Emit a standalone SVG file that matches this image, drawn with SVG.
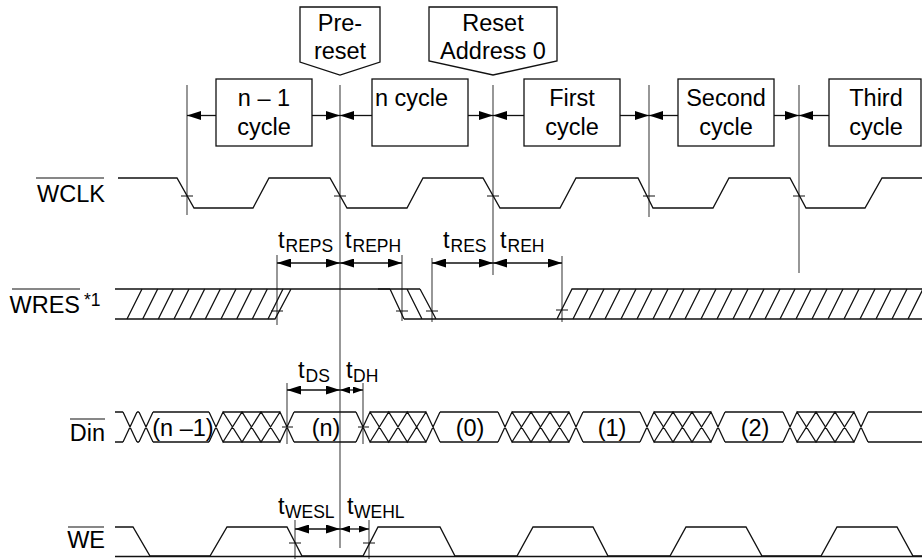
<svg xmlns="http://www.w3.org/2000/svg" width="922" height="559" viewBox="0 0 922 559">
<style>
text{font-family:"Liberation Sans",Arial,sans-serif;font-size:23.5px;fill:#000}
.sub{font-size:17.5px}
.c{text-anchor:middle}
.r{text-anchor:end}
.sig{fill:none;stroke:#111;stroke-width:1.3;stroke-linejoin:miter}
.box{fill:#fff;stroke:#111;stroke-width:1.3}
.vl{stroke:#444;stroke-width:1.1;fill:none}
.arr{stroke:#111;stroke-width:1.3;fill:none;marker-end:url(#ah)}
.dim{stroke:#111;stroke-width:1.3;fill:none;marker-start:url(#ah);marker-end:url(#ah)}
.dims{stroke:#111;stroke-width:1.3;fill:none;marker-start:url(#as);marker-end:url(#as)}
.tk{stroke:#111;stroke-width:1.1}
</style>
<defs>
<marker id="ah" markerUnits="userSpaceOnUse" markerWidth="14" markerHeight="9" refX="14" refY="4.5" orient="auto-start-reverse"><path d="M0,0 L14,4.5 L0,9 z" fill="#000"/></marker>
<marker id="as" markerUnits="userSpaceOnUse" markerWidth="10" markerHeight="7" refX="10" refY="3.5" orient="auto-start-reverse"><path d="M0,0 L10,3.5 L0,7 z" fill="#000"/></marker>
</defs>

<g id="tag-prereset">
<path class="box" d="M300,7 H380 V62 L340,75 L300,62 Z"/>
<text class="c" x="340" y="31">Pre-</text>
<text class="c" x="340" y="59">reset</text>
</g>
<g id="tag-reset">
<path class="box" d="M429,7 H557 V61 L493,75 L429,61 Z"/>
<text class="c" x="493" y="31">Reset</text>
<text class="c" x="493" y="59">Address 0</text>
</g>

<g id="connectors">
<path class="vl" d="M187,85 V215 M340,85 V548 M493,85 V275 M649,85 V217 M799,85 V273"/>
<path class="vl" d="M277,255 V325 M402,255 V321 M432,258 V322 M562,256 V322 M287,383 V444 M363,383 V444 M295,520 V559 M369,520 V559"/>
<path class="arr" d="M216,115.5 H187"/>
<path class="arr" d="M312,115.5 H340"/>
<path class="arr" d="M372,115.5 H340"/>
<path class="arr" d="M468,115.5 H493"/>
<path class="arr" d="M524,115.5 H493"/>
<path class="arr" d="M620,115.5 H649"/>
<path class="arr" d="M678,115.5 H649"/>
<path class="arr" d="M774,115.5 H799"/>
<path class="arr" d="M829,115.5 H799"/>
<path class="dim" d="M277,263 H340"/>
<path class="dim" d="M340,263 H402"/>
<path class="dim" d="M432,263 H493"/>
<path class="dim" d="M493,263 H562"/>
<path class="dim" d="M287,390 H340"/>
<path class="dims" d="M340,390 H363"/>
<path class="dim" d="M295,529 H340"/>
<path class="dims" d="M340,529 H369"/>
</g>

<g id="box-n-1">
<rect class="box" x="216" y="79" width="96" height="67"/>
<text class="c" x="264" y="106">n – 1</text>
<text class="c" x="264" y="135">cycle</text>
</g>
<g id="box-n">
<rect class="box" x="372" y="79" width="96" height="67"/>
<text x="375" y="106">n cycle</text>
</g>
<g id="box-first">
<rect class="box" x="524" y="79" width="96" height="67"/>
<text class="c" x="572" y="106">First</text>
<text class="c" x="572" y="135">cycle</text>
</g>
<g id="box-second">
<rect class="box" x="678" y="79" width="96" height="67"/>
<text class="c" x="726" y="106">Second</text>
<text class="c" x="726" y="135">cycle</text>
</g>
<g id="box-third">
<rect class="box" x="829" y="79" width="92" height="67"/>
<text class="c" x="876" y="106">Third</text>
<text class="c" x="876" y="135">cycle</text>
</g>

<g id="sig-wclk">
<text class="r" x="105" y="202">WCLK</text>
<line class="tk" x1="36" y1="178" x2="104" y2="178"/>
<path class="sig" d="M118,178 H177 L194,208 H253 L269,178 H330 L347,208 H407 L423,178 H483 L500,208 H560 L576,178 H638 L653,208 H713 L729,178 H790 L806,208 H865 L882,178 H922"/>
<path class="tk" d="M181,196 H193 M334,196 H346 M487,196 H499 M643,196 H655 M793,196 H805"/>
</g>

<g id="sig-wres">
<text class="r" x="80" y="313">WRES</text>
<text class="sub" x="84" y="306">*1</text>
<line class="tk" x1="12" y1="289" x2="80" y2="289"/>
<path class="sig" d="M115,289 H420 M115,319 H275 L291,289 M390,289 L404,319 M407,289 L422,319 M420,289 L436,319 M404,319 H922 M557,319 L572,289 H922"/>
<path class="sig" stroke-width="2.6" d="M378,289 H390"/>
<path class="sig" d="M127,319 L142,289 M142.7,319 L157.7,289 M158.3,319 L173.3,289 M174,319 L189,289 M189.7,319 L204.7,289 M205.3,319 L220.3,289 M221,319 L236,289 M236.7,319 L251.7,289 M252.3,319 L267.3,289 M268,319 L283,289"/>
<path class="sig" d="M573,319 L588,289 M589,319 L604,289 M605,319 L620,289 M621,319 L636,289 M637,319 L652,289 M653,319 L668,289 M669,319 L684,289 M685,319 L700,289 M701,319 L716,289 M717,319 L732,289 M733,319 L748,289 M749,319 L764,289 M765,319 L780,289 M780,319 L795,289 M796,319 L811,289 M812,319 L827,289 M828,319 L843,289 M844,319 L859,289 M860,319 L875,289 M876,319 L891,289 M892,319 L907,289 M908,319 L923,289"/>
<path class="tk" d="M271,311 H283 M396,311 H408 M426,311 H438 M556,310 H568"/>
</g>

<g id="sig-din">
<text class="r" x="105" y="441">Din</text>
<line class="tk" x1="70" y1="419" x2="105" y2="419"/>
<path class="sig" d="M115,412 H123 M137,412 H139 M153,412 H209 M223,412 H280 M294,412 H356 M370,412 H426 M440,412 H498 M512,412 H569 M583,412 H640 M654,412 H711 M725,412 H783 M797,412 H854 M868,412 H922"/>
<path class="sig" d="M115,442 H123 M137,442 H139 M153,442 H209 M223,442 H280 M294,442 H356 M370,442 H426 M440,442 H498 M512,442 H569 M583,442 H640 M654,442 H711 M725,442 H783 M797,442 H854 M868,442 H922"/>
<path class="sig" d="M123,412 L137,442 M123,442 L137,412 M139,412 L153,442 M139,442 L153,412
M209,412 L223,442 L242,412 L261,442 L280,412 L294,442 M209,442 L223,412 L242,442 L261,412 L280,442 L294,412
M356,412 L370,442 L388.7,412 L407.3,442 L426,412 L440,442 M356,442 L370,412 L388.7,442 L407.3,412 L426,442 L440,412
M498,412 L512,442 L531,412 L550,442 L569,412 L583,442 M498,442 L512,412 L531,442 L550,412 L569,442 L583,412
M640,412 L654,442 L673,412 L692,442 L711,412 L725,442 M640,442 L654,412 L673,442 L692,412 L711,442 L725,412
M783,412 L797,442 L816,412 L835,442 L854,412 L868,442 M783,442 L797,412 L816,442 L835,412 L854,442 L868,412"/>
<path class="tk" d="M282,427 H293 M358,427 H369"/>
<text class="c" x="183" y="436">(n –1)</text>
<text class="c" x="326" y="436">(n)</text>
<text class="c" x="470" y="436">(0)</text>
<text class="c" x="612" y="436">(1)</text>
<text class="c" x="755" y="436">(2)</text>
</g>

<g id="sig-we">
<text class="r" x="105" y="548">WE</text>
<line class="tk" x1="68" y1="527" x2="104" y2="527"/>
<path class="sig" d="M115,527 H133 L150,556 H210 L227,527 H287 L302,556 H363 L378,527 H440 L455,556 H517 L533,527 H593 L608,556 H670 L686,527 H746 L762,556 H821 L837,527 H897 L913,556 H922"/>
<path class="sig" stroke-width="1.6" d="M115,556.5 H922"/>
<path class="tk" d="M289,543 H301 M363,543 H375"/>
</g>

<g id="timing-labels">
<text x="278" y="248">t<tspan class="sub" x="285.5" y="252">REPS</tspan></text>
<text x="345" y="248">t<tspan class="sub" x="352.5" y="252">REPH</tspan></text>
<text x="443" y="248">t<tspan class="sub" x="450.5" y="252">RES</tspan></text>
<text x="500" y="248">t<tspan class="sub" x="507.5" y="252">REH</tspan></text>
<text x="298" y="378">t<tspan class="sub" x="305.5" y="382">DS</tspan></text>
<text x="346" y="378">t<tspan class="sub" x="353" y="382">DH</tspan></text>
<text x="278" y="514">t<tspan class="sub" x="285" y="518">WESL</tspan></text>
<text x="347" y="514">t<tspan class="sub" x="354" y="518">WEHL</tspan></text>
</g>
</svg>
